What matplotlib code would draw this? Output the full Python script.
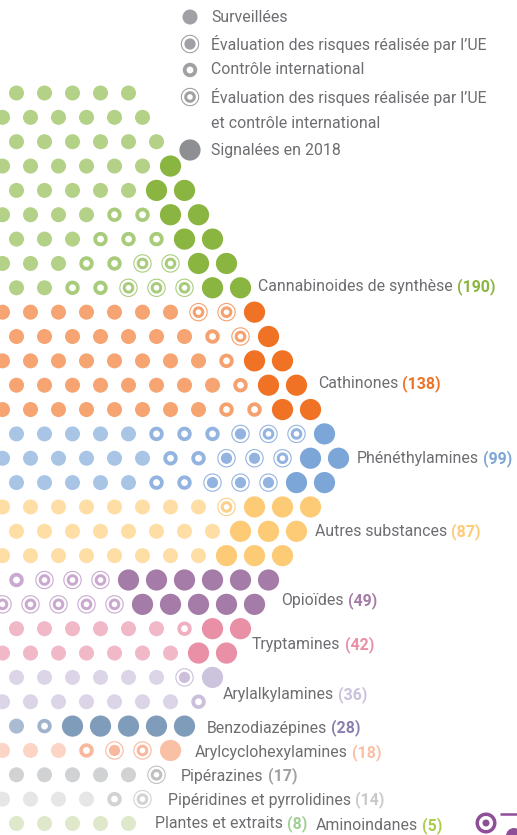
import matplotlib.pyplot as plt
from matplotlib.patches import Circle, Annulus

plt.rcParams['font.family'] = ['Roboto', 'DejaVu Sans']

# substance groups: name, total count, surveillées colour, ring colour, new-in-2018 colour, count text colour
GROUPS = ["Cannabinoides de synthèse", "Cathinones", "Phénéthylamines", "Autres substances",
          "Opioïdes", "Tryptamines", "Arylalkylamines", "Benzodiazépines",
          "Arylcyclohexylamines", "Pipérazines", "Pipéridines et pyrrolidines",
          "Plantes et extraits", "Aminoindanes"]
COUNTS = [190, 138, 99, 87, 49, 42, 36, 28, 18, 17, 14, 8, 5]
LIGHT = ["#b4d188", "#f6a471", "#a9c5e6", "#fedea5", "#d3bdd9", "#f1b8c8", "#dcd5e7",
         "#a9bcd2", "#fcd5c6", "#d1d2d4", "#e6e6e7", "#dfe8cb", "#dfe8cb"]
RING = ["#a9cc7c", "#f5a06d", "#93b3e0", "#fdd08a", "#c9a9d0", "#f0b0c2", "#cbbfdc",
        "#9fb4cc", "#f7b89e", "#c0c0c2", "#d3d3d5", "#dfe8cb", "#dfe8cb"]
DARK = ["#8ab540", "#f07225", "#7ca6d7", "#fdcb76", "#a57ba8", "#e98fa6", "#ccc3dd",
        "#7f9cba", "#f9c0a6", "#b0b0b2", "#d6d6d8", "#c9d9a8", "#c9d9a8"]
COUNT_COLOR = ["#8ab540", "#f07225", "#7ca6d7", "#fdcb76", "#a57ba8", "#e98fa6", "#cbc0dc",
               "#8a7fae", "#f9bfa4", "#a0a0a2", "#c8c8ca", "#9fcf95", "#a8cc4a"]

# visible part of each row of the dot grid, from left edge to the right end
# S surveillée, C contrôle international, E évaluation UE, B les deux, N signalée en 2018
ROW_GROUP = [0] * 9 + [1] * 5 + [2] * 3 + [3] * 3 + [4] * 2 + [5] * 2 + [6] * 2 + [7, 8, 9, 10, 11]
ROW_CODES = [
    "SSSSS", "SSSSSS", "SSSSSS", "SSSSSSN", "SSSSSNN", "SSSSCCNN", "SSSCCCNN",
    "SSSCCBBNN", "SSCCBBBNN",
    "SSSSSSSBBN", "SSSSSSSCBN", "SSSSSSSSCNN", "SSSSSSSSCNN", "SSSSSSSSCCNN",
    "SSSSSCCCEBBN", "SSSSSSCCEEBNN", "SSSSSCCEEENN",
    "SSSSSSSSBNNN", "SSSSSSSSNNN", "SSSSSSSSNNN",
    "CBBBNNNNNN", "BBBBBNNNNN",
    "SSSSSSCNN", "SSSSSSSNN",
    "SSSSSSEN", "SSSSSSSC",
    "SCNNNNN", "SSSCEBN", "SSSSSB", "SSSSCB", "SSSSS",
]

LEGEND_LABELS = ["Surveillées", "Évaluation des risques réalisée par l’UE", "Contrôle international",
                 "Évaluation des risques réalisée par l’UE", "Signalées en 2018"]
LEGEND_CODES = ["S", "E", "C", "B", "N"]
LEGEND_EXTRA = "et contrôle international"

# layout (pixels)
P, DY, X0, Y0 = 28.0, 24.35, 2.5, 93.0
LABEL_POS = [(258, 287), (318, 384), (357, 459), (315, 532), (281, 601), (252, 645),
             (223, 695), (207, 728), (195, 753), (181, 776), (168, 800), (155, 824), (316, 826)]
LEGEND_Y = [17, 44, 70, 97, 150]
TEXT_GRAY = "#6d6e71"
FS = 11.4


def draw_dot(ax, x, y, code, light, ring, dark):
    if code == "S":
        ax.add_patch(Circle((x, y), 7.5, fc=light, ec="none"))
    elif code == "C":
        ax.add_patch(Annulus((x, y), 7.2, 3.8, fc=ring, ec="none"))
    elif code == "E":
        ax.add_patch(Annulus((x, y), 9.2, 1.1, fc=ring, ec="none"))
        ax.add_patch(Circle((x, y), 5.6, fc=ring, ec="none"))
    elif code == "B":
        ax.add_patch(Annulus((x, y), 9.2, 1.1, fc=ring, ec="none"))
        ax.add_patch(Annulus((x, y), 5.8, 3.0, fc=ring, ec="none"))
    elif code == "N":
        ax.add_patch(Circle((x, y), 10.6, fc=dark, ec="none"))


fig = plt.figure(figsize=(5.17, 8.35), dpi=100)
ax = fig.add_axes([0, 0, 1, 1])
ax.set_xlim(0, 517)
ax.set_ylim(835, 0)
ax.axis("off")

# dot grid (hex packing: even rows shifted half a step)
for r, (g, codes) in enumerate(zip(ROW_GROUP, ROW_CODES)):
    y = Y0 + r * DY
    shift = P / 2 if r % 2 == 0 else 0
    for c, code in enumerate(codes):
        draw_dot(ax, X0 + shift + c * P, y, code, LIGHT[g], RING[g], DARK[g])

# category labels
for name, n, col, (lx, ly) in zip(GROUPS, COUNTS, COUNT_COLOR, LABEL_POS):
    t = ax.text(lx, ly, name, fontsize=FS, color=TEXT_GRAY, va="center", ha="left")
    ax.annotate(f"({n})", xy=(1, 0.5), xycoords=t, xytext=(3, 0), textcoords="offset points",
                fontsize=FS, fontweight="bold", color=col, va="center", ha="left")

# legend
for lab, code, ly in zip(LEGEND_LABELS, LEGEND_CODES, LEGEND_Y):
    draw_dot(ax, 190, ly, code, "#a0a1a4", "#a0a1a4", "#8e8f92")
    ax.text(211, ly, lab, fontsize=FS, color=TEXT_GRAY, va="center", ha="left")
ax.text(211, 123, LEGEND_EXTRA, fontsize=FS, color=TEXT_GRAY, va="center", ha="left")

# corner logo fragment
ax.add_patch(Annulus((486, 823), 10.5, 3.5, fc="#8e4f98", ec="none"))
ax.add_patch(Circle((486, 823), 3.5, fc="#8e4f98", ec="none"))
ax.plot([500, 517], [814, 814], color="#8e4f98", lw=1.8, solid_capstyle="butt")
ax.add_patch(Circle((514, 836), 8, fc="#8e4f98", ec="none"))

fig.savefig("out.png", dpi=100, facecolor="white")
